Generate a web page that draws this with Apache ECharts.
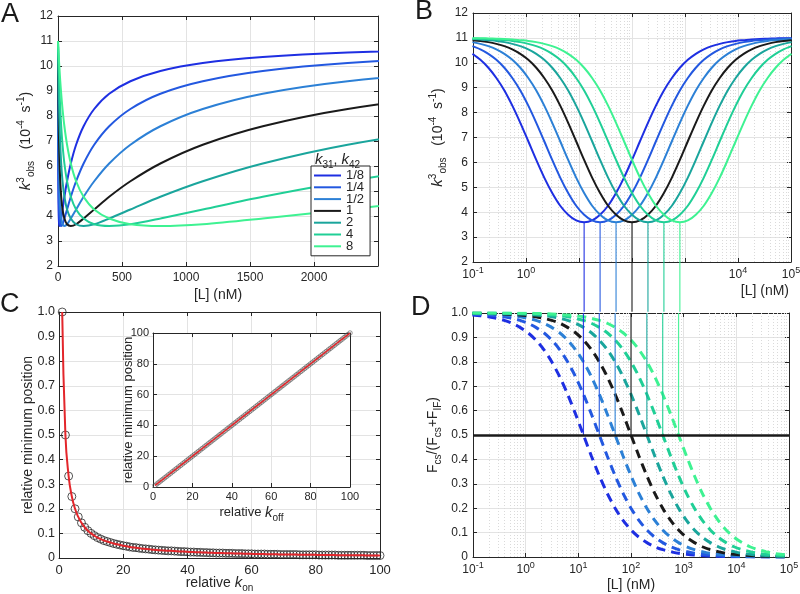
<!DOCTYPE html>
<html>
<head>
<meta charset="utf-8">
<script src="https://cdn.jsdelivr.net/npm/echarts@6/dist/echarts.min.js"></script>
<style>
  html, body { margin: 0; padding: 0; background: #fff; }
  #chart { width: 800px; height: 594px; }
</style>
</head>
<body>
<div id="chart"></div>
<script>
// ---- data ----
// ligand concentration grid (nM), half-octave steps round 100 nM
const ligandNM = [0.0977, 0.138, 0.195, 0.276, 0.391, 0.552, 0.781, 1.105, 1.5625, 2.21, 3.125, 4.42, 6.25, 8.84,
  12.5, 17.68, 25, 35.36, 50, 70.71, 100, 141.4, 200, 282.8, 400, 565.7, 800, 1131, 1600, 2263, 3200, 4525,
  6400, 9051, 12800, 18102, 25600, 36204, 51200, 72408, 102400];

const ratioLabels = ['1/8', '1/4', '1/2', '1', '2', '4', '8'];

// k3obs (10^-4 s^-1) for each k31,k42 ratio
const kobsR1_8 = [10.36,10.12,9.80,9.39,8.89,8.28,7.59,6.85,6.10,5.39,4.77,4.26,3.90,3.67,3.60,3.67,3.90,4.26,4.77,5.39,6.10,6.85,7.59,8.28,8.89,9.39,9.80,10.12,10.36,10.54,10.67,10.76,10.83,10.88,10.91,10.94,10.96,10.97,10.98,10.99,10.99];
const kobsR1_4 = [10.67,10.54,10.36,10.12,9.80,9.39,8.89,8.28,7.59,6.85,6.10,5.39,4.77,4.26,3.90,3.67,3.60,3.67,3.90,4.26,4.77,5.39,6.10,6.85,7.59,8.28,8.89,9.39,9.80,10.12,10.36,10.54,10.67,10.76,10.83,10.88,10.91,10.94,10.96,10.97,10.98];
const kobsR1_2 = [10.83,10.76,10.67,10.54,10.36,10.12,9.80,9.39,8.89,8.28,7.59,6.85,6.10,5.39,4.77,4.26,3.90,3.67,3.60,3.67,3.90,4.26,4.77,5.39,6.10,6.85,7.59,8.28,8.89,9.39,9.80,10.12,10.36,10.54,10.67,10.76,10.83,10.88,10.91,10.94,10.96];
const kobsR1 = [10.91,10.88,10.83,10.76,10.67,10.54,10.36,10.12,9.80,9.39,8.89,8.28,7.59,6.85,6.10,5.39,4.77,4.26,3.90,3.67,3.60,3.67,3.90,4.26,4.77,5.39,6.10,6.85,7.59,8.28,8.89,9.39,9.80,10.12,10.36,10.54,10.67,10.76,10.83,10.88,10.91];
const kobsR2 = [10.96,10.94,10.91,10.88,10.83,10.76,10.67,10.54,10.36,10.12,9.80,9.39,8.89,8.28,7.59,6.85,6.10,5.39,4.77,4.26,3.90,3.67,3.60,3.67,3.90,4.26,4.77,5.39,6.10,6.85,7.59,8.28,8.89,9.39,9.80,10.12,10.36,10.54,10.67,10.76,10.83];
const kobsR4 = [10.98,10.97,10.96,10.94,10.91,10.88,10.83,10.76,10.67,10.54,10.36,10.12,9.80,9.39,8.89,8.28,7.59,6.85,6.10,5.39,4.77,4.26,3.90,3.67,3.60,3.67,3.90,4.26,4.77,5.39,6.10,6.85,7.59,8.28,8.89,9.39,9.80,10.12,10.36,10.54,10.67];
const kobsR8 = [10.99,10.99,10.98,10.97,10.96,10.94,10.91,10.88,10.83,10.76,10.67,10.54,10.36,10.12,9.80,9.39,8.89,8.28,7.59,6.85,6.10,5.39,4.77,4.26,3.90,3.67,3.60,3.67,3.90,4.26,4.77,5.39,6.10,6.85,7.59,8.28,8.89,9.39,9.80,10.12,10.36];
const kobsAtZero = 11;   // every curve starts here at [L] = 0

// Fcs/(Fcs+FIF) for each ratio (panel D)
const fluxR1_8 = [.992,.989,.985,.978,.97,.958,.941,.919,.889,.85,.8,.739,.667,.586,.5,.414,.333,.261,.2,.15,.111,.081,.059,.042,.03,.022,.015,.011,.008,.006,.004,.003,.002,.001,.001,.001,0,0,0,0,0];
const fluxR1_4 = [.996,.994,.992,.989,.985,.978,.97,.958,.941,.919,.889,.85,.8,.739,.667,.586,.5,.414,.333,.261,.2,.15,.111,.081,.059,.042,.03,.022,.015,.011,.008,.006,.004,.003,.002,.001,.001,.001,0,0,0];
const fluxR1_2 = [.998,.997,.996,.994,.992,.989,.985,.978,.97,.958,.941,.919,.889,.85,.8,.739,.667,.586,.5,.414,.333,.261,.2,.15,.111,.081,.059,.042,.03,.022,.015,.011,.008,.006,.004,.003,.002,.001,.001,.001,0];
const fluxR1 = [.999,.999,.998,.997,.996,.994,.992,.989,.985,.978,.97,.958,.941,.919,.889,.85,.8,.739,.667,.586,.5,.414,.333,.261,.2,.15,.111,.081,.059,.042,.03,.022,.015,.011,.008,.006,.004,.003,.002,.001,.001];
const fluxR2 = [1,.999,.999,.999,.998,.997,.996,.994,.992,.989,.985,.978,.97,.958,.941,.919,.889,.85,.8,.739,.667,.586,.5,.414,.333,.261,.2,.15,.111,.081,.059,.042,.03,.022,.015,.011,.008,.006,.004,.003,.002];
const fluxR4 = [1,1,1,.999,.999,.999,.998,.997,.996,.994,.992,.989,.985,.978,.97,.958,.941,.919,.889,.85,.8,.739,.667,.586,.5,.414,.333,.261,.2,.15,.111,.081,.059,.042,.03,.022,.015,.011,.008,.006,.004];
const fluxR8 = [1,1,1,1,1,.999,.999,.999,.998,.997,.996,.994,.992,.989,.985,.978,.97,.958,.941,.919,.889,.85,.8,.739,.667,.586,.5,.414,.333,.261,.2,.15,.111,.081,.059,.042,.03,.022,.015,.011,.008];

// position of the k3obs minimum for each ratio (nM), where flux fraction = 0.5
const minPositionNM = [12.5, 25, 50, 100, 200, 400, 800];
const kobsMin = 3.6;
const fluxAtMin = 0.5;

// panel C: relative minimum position vs relative kon
const relKon = [1,2,3,4,5,6,7,8,9,10,11,12,13,14,15,16,17,18,19,20,21,22,23,24,25,26,27,28,29,30,31,32,33,34,35,36,37,38,39,40,
  41,42,43,44,45,46,47,48,49,50,51,52,53,54,55,56,57,58,59,60,61,62,63,64,65,66,67,68,69,70,71,72,73,74,75,76,77,78,79,80,
  81,82,83,84,85,86,87,88,89,90,91,92,93,94,95,96,97,98,99,100];
const relMinPosOn = [1,.5,.333,.25,.2,.167,.143,.125,.111,.1,.091,.083,.077,.071,.067,.063,.059,.056,.053,.05,
  .048,.045,.043,.042,.04,.038,.037,.036,.034,.033,.032,.031,.03,.029,.029,.028,.027,.026,.026,.025,
  .024,.024,.023,.023,.022,.022,.021,.021,.02,.02,.02,.019,.019,.019,.018,.018,.018,.017,.017,.017,
  .016,.016,.016,.016,.015,.015,.015,.015,.014,.014,.014,.014,.014,.014,.013,.013,.013,.013,.013,.013,
  .012,.012,.012,.012,.012,.012,.011,.011,.011,.011,.011,.011,.011,.011,.011,.01,.01,.01,.01,.01];
// inset: relative minimum position vs relative koff
const relKoff = [1,2,3,4,5,6,7,8,9,10,11,12,13,14,15,16,17,18,19,20,21,22,23,24,25,26,27,28,29,30,31,32,33,34,35,36,37,38,39,40,
  41,42,43,44,45,46,47,48,49,50,51,52,53,54,55,56,57,58,59,60,61,62,63,64,65,66,67,68,69,70,71,72,73,74,75,76,77,78,79,80,
  81,82,83,84,85,86,87,88,89,90,91,92,93,94,95,96,97,98,99,100];
const relMinPosOff = [1,2,3,4,5,6,7,8,9,10,11,12,13,14,15,16,17,18,19,20,21,22,23,24,25,26,27,28,29,30,31,32,33,34,35,36,37,38,39,40,
  41,42,43,44,45,46,47,48,49,50,51,52,53,54,55,56,57,58,59,60,61,62,63,64,65,66,67,68,69,70,71,72,73,74,75,76,77,78,79,80,
  81,82,83,84,85,86,87,88,89,90,91,92,93,94,95,96,97,98,99,100];

// tick labels
const bDecadeLabels = [-1, 0, 4, 5];      // panel B hides 10^1..10^3
const dDecadeLabels = [-1, 0, 1, 2, 3, 4, 5];

// ---- styles ----
const ratioColors = ['#1e2fe2', '#2358e0', '#2c80d6', '#1a1a1a', '#1aa59c', '#20cf96', '#3ef292'];
const kobsCurves = [kobsR1_8, kobsR1_4, kobsR1_2, kobsR1, kobsR2, kobsR4, kobsR8];
const fluxCurves = [fluxR1_8, fluxR1_4, fluxR1_2, fluxR1, fluxR2, fluxR4, fluxR8];

const FONT = '"Liberation Sans", Arial, Helvetica, sans-serif';
const AXIS = '#262626';
const TEXT = '#262626';
const GRIDLINE = '#e3e3e3';
const RED = '#e3262b';

const richBits = {
  i: { fontStyle: 'italic', fontWeight: 'normal', fontSize: 15, fontFamily: FONT, color: TEXT, lineHeight: 20 },
  sup: { fontSize: 10, fontWeight: 'normal', verticalAlign: 'top', lineHeight: 20, fontFamily: FONT, color: TEXT },
  sub: { fontSize: 10, fontWeight: 'normal', verticalAlign: 'bottom', lineHeight: 20, fontFamily: FONT, color: TEXT }
};

function nameStyle(size) {
  return { fontSize: size || 14, fontWeight: 'normal', color: TEXT, fontFamily: FONT, lineHeight: 20, rich: richBits };
}

function axis(gridIndex, o) {
  return Object.assign({
    gridIndex: gridIndex,
    type: 'value',
    axisLine: { show: true, onZero: false, lineStyle: { color: AXIS, width: 1 } },
    axisTick: { show: true, inside: true, length: 4, lineStyle: { color: AXIS } },
    axisLabel: { color: TEXT, fontSize: 12, fontFamily: FONT, margin: 5 },
    splitLine: { show: true, lineStyle: { color: GRIDLINE, width: 1 } },
    nameTextStyle: nameStyle(14)
  }, o);
}

function mirror(a, pos) {
  return Object.assign({}, a, {
    position: pos, name: '',
    axisLabel: { show: false },
    splitLine: { show: false }
  });
}

function powLabel(shown) {
  return function (v) {
    const e = Math.round(Math.log10(v));
    return shown.indexOf(e) >= 0 ? '10{sup|' + e + '}' : '';
  };
}
const powRich = { sup: { fontSize: 9, verticalAlign: 'top', lineHeight: 18, fontFamily: FONT, color: TEXT } };

function plain(v) { return String(v); }
function oneDecimal(v) { return v === 0 ? '0' : v.toFixed(1); }

// minor log grid positions (2..9 per decade)
const logMinor = [];
for (let e = -1; e < 5; e++) {
  for (let m = 2; m < 10; m++) logMinor.push(+(m * Math.pow(10, e)).toPrecision(3));
}

const KOBS_NAME = '{i|k}{sup|3}{sub|obs}   (10{sup|-4}  s{sup|-1})';

// ---- axes: grid 0 A, 1 B, 2 C, 3 inset, 4 D ----
const xA = axis(0, { min: 0, max: 2500, interval: 500,
  axisLabel: { color: TEXT, fontSize: 12, fontFamily: FONT, margin: 6, showMaxLabel: false, formatter: plain },
  name: '[L] (nM)', nameLocation: 'middle', nameGap: 19 });
const yA = axis(0, { min: 2, max: 12, interval: 1,
  name: KOBS_NAME, nameLocation: 'middle', nameRotate: 90, nameGap: 22, nameMoveOverlap: false });

const xB = axis(1, { type: 'log', logBase: 10, min: 0.1, max: 100000,
  axisLabel: { color: TEXT, fontSize: 12, fontFamily: FONT, margin: 4, lineHeight: 18, formatter: powLabel(bDecadeLabels), rich: powRich } });
const yB = axis(1, { min: 2, max: 12, interval: 1,
  name: KOBS_NAME, nameLocation: 'middle', nameRotate: 90, nameGap: 25, nameMoveOverlap: false });

const xC = axis(2, { min: 0, max: 100, interval: 20, axisLabel: { color: TEXT, fontSize: 13, fontFamily: FONT, margin: 6 },
  name: 'relative {i|k}{sub|on}', nameLocation: 'middle', nameGap: 15, nameMoveOverlap: false });
const yC = axis(2, { min: 0, max: 1, interval: 0.1, axisLabel: { color: TEXT, fontSize: 12.5, fontFamily: FONT, margin: 4, formatter: oneDecimal },
  name: 'relative minimum position', nameLocation: 'middle', nameRotate: 90, nameGap: 21, nameMoveOverlap: false });

const xIn = axis(3, { min: 0, max: 100, interval: 20, z: 3, axisLabel: { color: TEXT, fontSize: 11, fontFamily: FONT, margin: 4 },
  name: 'relative {i|k}{sub|off}', nameLocation: 'middle', nameGap: 10, nameTextStyle: nameStyle(13) });
const yIn = axis(3, { min: 0, max: 100, interval: 20, z: 3, axisLabel: { color: TEXT, fontSize: 11, fontFamily: FONT, margin: 4 },
  name: 'relative minimum position', nameLocation: 'middle', nameRotate: 90, nameGap: 15, nameMoveOverlap: false,
  nameTextStyle: nameStyle(13) });

const xD = axis(4, { type: 'log', logBase: 10, min: 0.1, max: 100000,
  axisLabel: { color: TEXT, fontSize: 12, fontFamily: FONT, margin: 4, lineHeight: 18, formatter: powLabel(dDecadeLabels), rich: powRich },
  name: '[L] (nM)', nameLocation: 'middle', nameGap: 18, nameMoveOverlap: false });
const yD = axis(4, { min: 0, max: 1, interval: 0.1, axisLabel: { color: TEXT, fontSize: 12, fontFamily: FONT, margin: 5, formatter: oneDecimal },
  name: 'F{sub|cs}/(F{sub|cs}+F{sub|IF})', nameLocation: 'middle', nameRotate: 90, nameGap: 30, nameMoveOverlap: false });

const xAxes = [], yAxes = [];
[[xA, yA], [xB, yB], [xC, yC], [xIn, yIn], [xD, yD]].forEach(function (p) {
  xAxes.push(p[0], mirror(p[0], 'top'));
  yAxes.push(p[1], mirror(p[1], 'right'));
});

// ---- series ----
const series = [];
const minorGrid = { silent: true, symbol: 'none', z: 1, label: { show: false },
  lineStyle: { color: '#dadada', type: [1, 2], width: 1 },
  data: logMinor.map(function (v) { return { xAxis: v }; }) };

series.push({ type: 'line', xAxisIndex: 2, yAxisIndex: 2, data: [], z: 1, markLine: minorGrid });
series.push({ type: 'line', xAxisIndex: 8, yAxisIndex: 8, data: [], z: 1, markLine: minorGrid });

ratioLabels.forEach(function (name, i) {
  const pts = ligandNM.map(function (L, j) { return [L, kobsCurves[i][j]]; });
  series.push({
    name: name, type: 'line', xAxisIndex: 0, yAxisIndex: 0, symbol: 'none', smooth: 0.3,
    data: [[0, kobsAtZero]].concat(pts),
    lineStyle: { color: ratioColors[i], width: 2 }, itemStyle: { color: ratioColors[i] }
  });
  series.push({
    name: name, type: 'line', xAxisIndex: 2, yAxisIndex: 2, symbol: 'none', smooth: 0.3,
    data: pts, lineStyle: { color: ratioColors[i], width: 2 }, itemStyle: { color: ratioColors[i] }
  });
  series.push({
    name: name, type: 'line', xAxisIndex: 8, yAxisIndex: 8, symbol: 'none', smooth: 0.3,
    data: ligandNM.map(function (L, j) { return [L, fluxCurves[i][j]]; }),
    lineStyle: { color: ratioColors[i], width: 3, type: [9, 6] }, itemStyle: { color: ratioColors[i] }
  });
  // connectors from B's minimum down through D to the 0.5 crossing
  series.push({
    type: 'line', xAxisIndex: 2, yAxisIndex: 2, symbol: 'none', clip: false, z: 4, silent: true,
    data: [[minPositionNM[i], kobsMin], [minPositionNM[i], 0]],
    lineStyle: { color: ratioColors[i], width: 1.2, opacity: 0.9 }
  });
  series.push({
    type: 'line', xAxisIndex: 8, yAxisIndex: 8, symbol: 'none', clip: false, z: 4, silent: true,
    data: [[minPositionNM[i], fluxAtMin], [minPositionNM[i], 1]],
    lineStyle: { color: ratioColors[i], width: 1.2, opacity: 0.9 }
  });
});

series.push({
  type: 'line', xAxisIndex: 8, yAxisIndex: 8, data: [], z: 5,
  markLine: { silent: true, symbol: 'none', z: 5, label: { show: false },
    lineStyle: { color: '#1a1a1a', width: 2.5, type: 'solid' }, data: [{ yAxis: fluxAtMin }] }
});

// panel C
series.push({
  type: 'scatter', xAxisIndex: 4, yAxisIndex: 4, symbol: 'circle', symbolSize: 8, z: 2,
  data: relKon.map(function (x, j) { return [x, relMinPosOn[j]]; }),
  itemStyle: { color: 'rgba(0,0,0,0)', borderColor: '#2a2a2a', borderWidth: 1 }
});
series.push({
  type: 'line', xAxisIndex: 4, yAxisIndex: 4, symbol: 'none', smooth: true, z: 3,
  data: relKon.map(function (x, j) { return [x, relMinPosOn[j]]; }),
  lineStyle: { color: RED, width: 2 }
});
// inset
series.push({
  type: 'scatter', xAxisIndex: 6, yAxisIndex: 6, symbol: 'circle', symbolSize: 4.5, z: 4,
  data: relKoff.map(function (x, j) { return [x, relMinPosOff[j]]; }),
  itemStyle: { color: 'rgba(0,0,0,0)', borderColor: '#555', borderWidth: 0.8 }
});
series.push({
  type: 'line', xAxisIndex: 6, yAxisIndex: 6, symbol: 'none', z: 5,
  data: relKoff.map(function (x, j) { return [x, relMinPosOff[j]]; }),
  lineStyle: { color: RED, width: 1.5 }
});

const letter = { fontSize: 27, fontWeight: 'normal', color: '#1a1a1a', fontFamily: FONT };

const option = {
  backgroundColor: '#fff',
  animation: false,
  title: [
    { text: 'A', left: 1, top: 1, padding: 0, textStyle: letter },
    { text: 'B', left: 415, top: -2, padding: 0, textStyle: letter },
    { text: 'C', left: 0, top: 291, padding: 0, textStyle: letter },
    { text: 'D', left: 411, top: 294, padding: 0, textStyle: letter },
    { text: '{i|k}{sub|31}, {i|k}{sub|42}', left: 315, top: 150, padding: 0,
      textStyle: { fontSize: 14, fontWeight: 'normal', color: TEXT, fontFamily: FONT, lineHeight: 20, rich: richBits } },
    // x-axis name of panel B, sitting below its right end
    { text: '[L] (nM)', right: 11, top: 284, padding: 0,
      textStyle: { fontSize: 14, fontWeight: 'normal', color: TEXT, fontFamily: FONT } }
  ],
  legend: {
    data: ratioLabels, orient: 'vertical', left: 311, top: 166,
    padding: [3, 6, 3, 3], itemGap: -1.2, itemWidth: 27, itemHeight: 2, icon: 'rect',
    backgroundColor: '#fff', borderColor: AXIS, borderWidth: 1, borderRadius: 0,
    textStyle: { fontSize: 13, color: TEXT, fontFamily: FONT, lineHeight: 11.6 },
    selectedMode: false
  },
  grid: [
    { left: 58, top: 16, width: 320, height: 250, outerBoundsMode: 'none' },
    { left: 473, top: 13, width: 318, height: 249, outerBoundsMode: 'none' },
    { left: 59, top: 312, width: 321, height: 246, outerBoundsMode: 'none' },
    { left: 153, top: 333, width: 197, height: 154, show: true, backgroundColor: '#fff', borderWidth: 0, z: 3, outerBoundsMode: 'none' },
    { left: 473, top: 313, width: 316, height: 244, outerBoundsMode: 'none' }
  ],
  xAxis: xAxes,
  yAxis: yAxes,
  series: series
};

const chart = echarts.init(document.getElementById('chart'), null, { renderer: 'canvas' });
chart.setOption(option);
</script>
</body>
</html>
